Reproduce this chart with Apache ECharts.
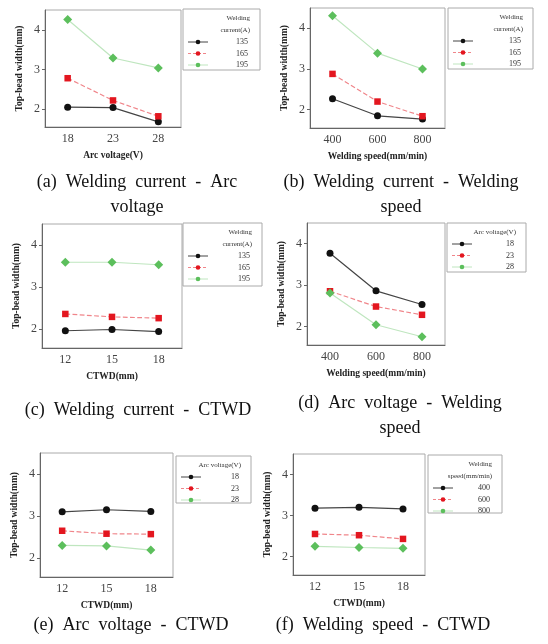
<!DOCTYPE html>
<html>
<head>
<meta charset="utf-8">
<script src="https://cdn.jsdelivr.net/npm/echarts@6/dist/echarts.min.js"></script>
<style>
  html, body { margin: 0; padding: 0; background: #fff; }
  #chart { width: 548px; height: 644px; }
</style>
</head>
<body>
<div id="chart"></div>
<script>
// categories for each panel
const arcVoltage = ['18', '23', '28'];
const speed = ['400', '600', '800'];
const ctwd = ['12', '15', '18'];
const yTicks = [2, 3, 4];

// panel a: welding current vs arc voltage
const a135 = [2.05, 2.04, 1.68];
const a165 = [2.78, 2.22, 1.82];
const a195 = [4.26, 3.29, 3.04];
// panel b: welding current vs welding speed
const b135 = [2.27, 1.85, 1.77];
const b165 = [2.88, 2.20, 1.84];
const b195 = [4.31, 3.39, 3.00];
// panel c: welding current vs CTWD
const c135 = [1.96, 1.99, 1.94];
const c165 = [2.36, 2.29, 2.26];
const c195 = [3.59, 3.59, 3.53];
// panel d: arc voltage vs welding speed
const d18 = [3.77, 2.86, 2.53];
const d23 = [2.85, 2.48, 2.28];
const d28 = [2.81, 2.04, 1.75];
// panel e: arc voltage vs CTWD
const e18 = [3.10, 3.15, 3.11];
const e23 = [2.65, 2.58, 2.57];
const e28 = [2.30, 2.29, 2.19];
// panel f: welding speed vs CTWD
const f400 = [3.18, 3.20, 3.16];
const f600 = [2.55, 2.52, 2.43];
const f800 = [2.25, 2.22, 2.20];

const currentNames = ['135', '165', '195'];
const voltageNames = ['18', '23', '28'];
const speedNames = ['400', '600', '800'];

const styles = [
  { color: '#111', line: '#444', type: 'solid', symbol: 'circle', size: 7 },
  { color: '#e3161f', line: '#f0858a', type: 'dashed', symbol: 'rect', size: 6.5 },
  { color: '#5cbf5c', line: '#bfe6bf', type: 'solid', symbol: 'diamond', size: 9 }
];

const panels = [
  { box: [45, 10, 181, 127], leg: [183, 9, 77, 61], legTitle: ['Welding', 'current(A)'], names: currentNames,
    cats: arcVoltage, xName: 'Arc voltage(V)', data: [a135, a165, a195],
    cap: ['(a)  Welding  current  -  Arc', 'voltage'], capY: 182, capX: 137 },
  { box: [310, 8, 445, 128], leg: [448, 8, 85, 61], legTitle: ['Welding', 'current(A)'], names: currentNames,
    cats: speed, xName: 'Welding speed(mm/min)', data: [b135, b165, b195],
    cap: ['(b)  Welding  current  -  Welding', 'speed'], capY: 182, capX: 401 },
  { box: [42, 224, 182, 348], leg: [183, 223, 79, 63], legTitle: ['Welding', 'current(A)'], names: currentNames,
    cats: ctwd, xName: 'CTWD(mm)', data: [c135, c165, c195],
    cap: ['(c)  Welding  current  -  CTWD'], capY: 410, capX: 138 },
  { box: [307, 223, 445, 345], leg: [447, 223, 79, 49], legTitle: ['Arc voltage(V)'], names: voltageNames,
    cats: speed, xName: 'Welding speed(mm/min)', data: [d18, d23, d28],
    cap: ['(d)  Arc  voltage  -  Welding', 'speed'], capY: 403, capX: 400 },
  { box: [40, 453, 173, 577], leg: [176, 456, 75, 47], legTitle: ['Arc voltage(V)'], names: voltageNames,
    cats: ctwd, xName: 'CTWD(mm)', data: [e18, e23, e28],
    cap: ['(e)  Arc  voltage  -  CTWD'], capY: 625, capX: 131 },
  { box: [293, 454, 425, 575], leg: [428, 455, 74, 58], legTitle: ['Welding', 'speed(mm/min)'], names: speedNames,
    cats: ctwd, xName: 'CTWD(mm)', data: [f400, f600, f800],
    cap: ['(f)  Welding  speed  -  CTWD'], capY: 625, capX: 383 }
];

const serif = 'Liberation Serif';
const grid = [], xAxis = [], yAxis = [], series = [], graphic = [];

panels.forEach((p, k) => {
  const [l, t, r, b] = p.box;
  grid.push({ left: l, top: t, width: r - l, height: b - t, show: true,
    borderColor: '#aaa', borderWidth: 1, containLabel: false });
  xAxis.push({ type: 'category', gridIndex: k, data: p.cats, boundaryGap: true,
    name: p.xName, nameLocation: 'middle', nameGap: 24,
    nameTextStyle: { fontFamily: serif, fontWeight: 'bold', fontSize: 9.5, color: '#222' },
    axisLine: { lineStyle: { color: '#666' } },
    axisTick: { alignWithLabel: true, length: 3, lineStyle: { color: '#666' } },
    axisLabel: { fontFamily: serif, fontSize: 12, color: '#444', margin: 6 },
    splitLine: { show: false } });
  yAxis.push({ type: 'value', gridIndex: k, min: 1.55, max: 4.5,
    name: 'Top-bead width(mm)', nameLocation: 'middle', nameGap: 20,
    nameTextStyle: { fontFamily: serif, fontWeight: 'bold', fontSize: 9.5, color: '#222' },
    axisLine: { show: true, lineStyle: { color: '#666' } },
    axisTick: { show: true, length: 3, customValues: yTicks, lineStyle: { color: '#666' } },
    axisLabel: { fontFamily: serif, fontSize: 12, color: '#444', margin: 5, customValues: yTicks },
    splitLine: { show: false } });
  p.data.forEach((d, i) => {
    const s = styles[i];
    series.push({ type: 'line', name: p.names[i] + '_' + k, xAxisIndex: k, yAxisIndex: k, data: d,
      symbol: s.symbol, symbolSize: s.size, itemStyle: { color: s.color },
      lineStyle: { color: s.line, width: 1.2, type: s.type }, silent: true });
  });

  // legend box
  const [lx, ly, lw, lh] = p.leg;
  graphic.push({ type: 'rect', shape: { x: lx, y: ly, width: lw, height: lh },
    style: { fill: '#fff', stroke: '#aaa', lineWidth: 1 } });
  p.legTitle.forEach((txt, j) => {
    graphic.push({ type: 'text', x: lx + lw - 10, y: ly + 9 + j * 12,
      style: { text: txt, fontFamily: serif, fontSize: 7, fill: '#333', align: 'right', verticalAlign: 'middle' } });
  });
  const rowStart = ly + 9 + p.legTitle.length * 12;
  p.names.forEach((n, i) => {
    const s = styles[i];
    const yy = rowStart + i * 11.5;
    graphic.push({ type: 'line', shape: { x1: lx + 5, y1: yy, x2: lx + 25, y2: yy },
      style: { stroke: s.line, lineWidth: 1, lineDash: s.type === 'dashed' ? [3, 2] : null } });
    graphic.push({ type: 'circle', shape: { cx: lx + 15, cy: yy, r: 2.3 }, style: { fill: s.color } });
    graphic.push({ type: 'text', x: lx + lw - 12, y: yy,
      style: { text: n, fontFamily: serif, fontSize: 8, fill: '#333', align: 'right', verticalAlign: 'middle' } });
  });

  // caption
  p.cap.forEach((txt, j) => {
    graphic.push({ type: 'text', x: p.capX, y: p.capY + j * 25,
      style: { text: txt, fontFamily: serif, fontSize: 18, fill: '#111', align: 'center', verticalAlign: 'middle' } });
  });
});

const myChart = echarts.init(document.getElementById('chart'));
myChart.setOption({ animation: false, grid, xAxis, yAxis, series, graphic });
</script>
</body>
</html>
